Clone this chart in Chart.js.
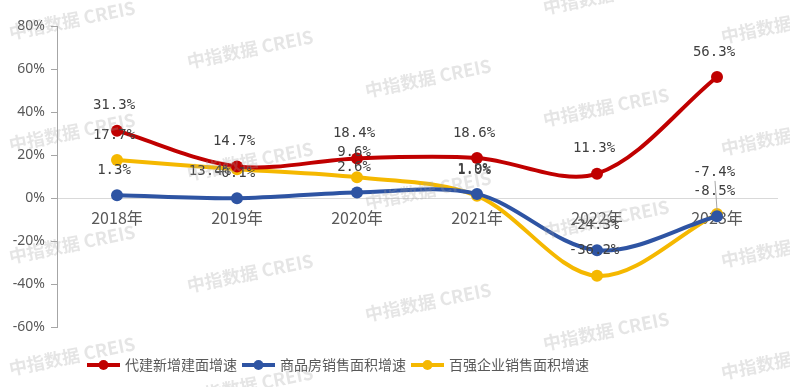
<!DOCTYPE html>
<html>
<head>
<meta charset="utf-8">
<script src="https://cdn.jsdelivr.net/npm/chart.js@4.4.1/dist/chart.umd.min.js"></script>
<style>
  html, body { margin: 0; padding: 0; background: #fff; }
</style>
</head>
<body>
<canvas id="myChart" width="790" height="387"></canvas>
<script>
var years = ['2018年', '2019年', '2020年', '2021年', '2022年', '2023年'];
var daijian = [31.3, 14.7, 18.4, 18.6, 11.3, 56.3];
var shangpin = [1.3, -0.1, 2.6, 1.9, -24.3, -8.5];
var baiqiang = [17.7, 13.4, 9.6, 1.0, -36.2, -7.4];
var seriesNames = ['代建新增建面增速', '商品房销售面积增速', '百强企业销售面积增速'];
var seriesColors = ['#C00000', '#2E54A3', '#F5B800'];

var makeDataset = function(name, values, colour){
    return {
        label: name,
        data: values,
        borderColor: colour,
        backgroundColor: colour,
        borderWidth: 4,
        tension: 0.33,
        pointRadius: 6,
        pointHoverRadius: 6,
        pointBackgroundColor: colour,
        pointBorderColor: colour,
        pointBorderWidth: 0
    };
}

// label tweaks: yellow 2019 sits to the left, yellow 2023 is lifted with a leader line
var labelTweak = function(dsIndex, i){
    if (dsIndex == 2 && i == 1) return {mode: 'left'};
    if (dsIndex == 2 && i == 5) return {mode: 'up', dy: 42, leader: true};
    return {mode: 'up', dy: 25};
}

var pctLabels = {
    id: 'pctLabels',
    afterDatasetsDraw: function(chart){
        var ctx = chart.ctx;
        ctx.save();
        ctx.font = '14px "DejaVu Sans Mono"';
        ctx.fillStyle = '#404040';
        ctx.textBaseline = 'middle';
        chart.data.datasets.forEach(function(ds, d){
            var meta = chart.getDatasetMeta(d);
            meta.data.forEach(function(pt, i){
                var txt = ds.data[i].toFixed(1) + '%';
                var t = labelTweak(d, i);
                if (t.mode == 'left'){
                    ctx.textAlign = 'right';
                    ctx.fillText(txt, pt.x - 6, pt.y + 2);
                } else {
                    ctx.textAlign = 'center';
                    ctx.fillText(txt, pt.x - 3, pt.y - t.dy);
                    if (t.leader){
                        ctx.strokeStyle = '#a6a6a6';
                        ctx.lineWidth = 1;
                        ctx.beginPath();
                        ctx.moveTo(pt.x - 2, pt.y - t.dy + 9);
                        ctx.lineTo(pt.x, pt.y - 4);
                        ctx.stroke();
                    }
                }
            });
        });
        ctx.restore();
    }
};

var bottomLegend = {
    id: 'bottomLegend',
    afterDraw: function(chart){
        var ctx = chart.ctx;
        var x = 87, y = 365;
        ctx.save();
        ctx.font = '14px "Noto Sans CJK SC"';
        ctx.textBaseline = 'middle';
        ctx.textAlign = 'left';
        chart.data.datasets.forEach(function(ds){
            ctx.strokeStyle = ds.borderColor;
            ctx.lineWidth = 4;
            ctx.beginPath();
            ctx.moveTo(x, y);
            ctx.lineTo(x + 33, y);
            ctx.stroke();
            ctx.fillStyle = ds.borderColor;
            ctx.beginPath();
            ctx.arc(x + 16.5, y, 5, 0, Math.PI * 2);
            ctx.fill();
            ctx.fillStyle = '#595959';
            ctx.fillText(ds.label, x + 38, y);
            x += 38 + ctx.measureText(ds.label).width + 5;
        });
        ctx.restore();
    }
};

var watermark = {
    id: 'watermark',
    afterDraw: function(chart){
        var ctx = chart.ctx;
        ctx.save();
        ctx.font = 'bold 18px "Noto Sans CJK SC"';
        ctx.fillStyle = 'rgba(160,160,160,0.28)';
        ctx.textAlign = 'center';
        ctx.textBaseline = 'middle';
        for (var i = 0; i < 6; i++){
            for (var j = -1; j < 4; j++){
                ctx.save();
                ctx.translate(72 + 178 * i, 20 + 29 * i + 112 * j);
                ctx.rotate(-0.2);
                ctx.fillText('中指数据 CREIS', 0, 0);
                ctx.restore();
            }
        }
        ctx.restore();
    }
};

var ctx = document.getElementById('myChart');
var myChart = new Chart(ctx, {
    type: 'line',
    data: {
        labels: years,
        datasets: [
            makeDataset(seriesNames[0], daijian, seriesColors[0]),
            makeDataset(seriesNames[1], shangpin, seriesColors[1]),
            makeDataset(seriesNames[2], baiqiang, seriesColors[2])
        ]
    },
    options: {
        responsive: false,
        animation: false,
        layout: { padding: { top: 26, right: 13, bottom: 60, left: 0 } },
        plugins: {
            legend: { display: false },
            tooltip: { enabled: false }
        },
        scales: {
            x: {
                position: { y: 0 },
                offset: true,
                grid: { display: false, drawTicks: false },
                border: { display: true, color: '#d9d9d9', width: 1 },
                ticks: {
                    color: '#595959',
                    padding: 10,
                    font: { size: 16, family: '"Noto Sans CJK SC"' }
                }
            },
            y: {
                min: -60,
                max: 80,
                afterFit: function(scale){ scale.width = 57; },
                grid: { drawOnChartArea: false, drawTicks: true, tickLength: 6, color: '#a6a6a6' },
                border: { display: true, color: '#a6a6a6', width: 1 },
                ticks: {
                    stepSize: 20,
                    color: '#595959',
                    padding: 6,
                    font: { size: 14, family: '"Noto Sans"' },
                    callback: function(v){ return v + '%'; }
                }
            }
        }
    },
    plugins: [pctLabels, bottomLegend, watermark]
});
</script>
</body>
</html>
